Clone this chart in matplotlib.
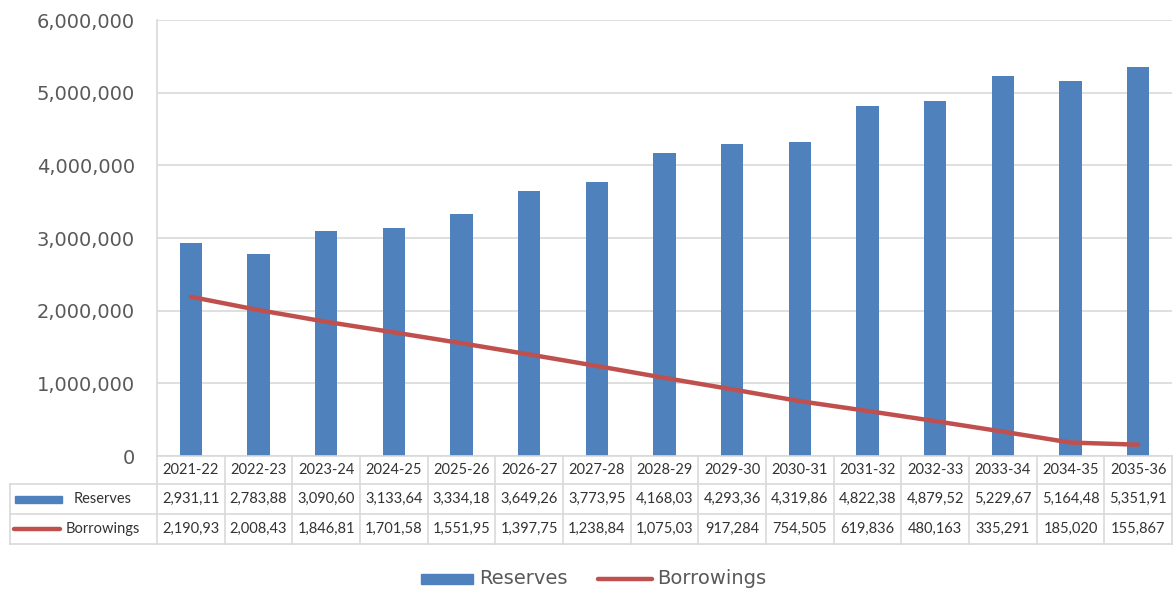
import numpy as np
import matplotlib.pyplot as plt
from matplotlib.lines import Line2D
from matplotlib.patches import Rectangle
import matplotlib.transforms as mtransforms

years = ['2021-22', '2022-23', '2023-24', '2024-25', '2025-26', '2026-27', '2027-28',
         '2028-29', '2029-30', '2030-31', '2031-32', '2032-33', '2033-34', '2034-35', '2035-36']
reserves = [2931110, 2783880, 3090600, 3133640, 3334180, 3649260, 3773950,
            4168030, 4293360, 4319860, 4822380, 4879520, 5229670, 5164480, 5351910]
borrowings = [2190930, 2008430, 1846810, 1701580, 1551950, 1397750, 1238840,
              1075030, 917284, 754505, 619836, 480163, 335291, 185020, 155867]
# the table cells are truncated in the original
reserves_txt = ['2,931,11', '2,783,88', '3,090,60', '3,133,64', '3,334,18', '3,649,26', '3,773,95',
                '4,168,03', '4,293,36', '4,319,86', '4,822,38', '4,879,52', '5,229,67', '5,164,48', '5,351,91']
borrowings_txt = ['2,190,93', '2,008,43', '1,846,81', '1,701,58', '1,551,95', '1,397,75', '1,238,84',
                  '1,075,03', '917,284', '754,505', '619,836', '480,163', '335,291', '185,020', '155,867']
yticks = [0, 1000000, 2000000, 3000000, 4000000, 5000000, 6000000]

BLUE = '#4F81BD'
RED = '#C0504D'
GRID = '#D9D9D9'
TXT = '#595959'
TBL = '#333333'

W, H = 1173, 593
fig = plt.figure(figsize=(W / 100, H / 100), dpi=100)

def fx(px):
    return px / W

def fy(py):
    return 1 - py / H

left, right, top, bottom = 157, 1172, 20, 456
ax = fig.add_axes([fx(left), fy(bottom), fx(right - left), (bottom - top) / H])

x = np.arange(len(years))
ax.bar(x, reserves, width=0.33, color=BLUE, zorder=2)
ax.plot(x, borrowings, color=RED, lw=3.2, solid_capstyle='round', zorder=3)

ax.set_xlim(-0.5, len(years) - 0.5)
ax.set_ylim(0, 6000000)
ax.set_yticks(yticks)
ax.set_yticklabels(['{:,}'.format(v) for v in yticks], fontsize=14, color=TXT)
ax.tick_params(axis='y', length=0, pad=16)
ax.set_xticks([])
ax.grid(axis='y', color=GRID, lw=1.2, zorder=0)
for s in ['top', 'right', 'bottom']:
    ax.spines[s].set_visible(False)
ax.spines['left'].set_color(GRID)
ax.spines['left'].set_linewidth(1.2)

# data table below the axes
rows = [456, 484, 514, 544]
tfont = dict(fontsize=10.5, color=TBL, family='Lato')
trans = mtransforms.blended_transform_factory(ax.transData, fig.transFigure)
line_kw = dict(color=GRID, lw=1.2)
fig.add_artist(Line2D([fx(left), fx(right)], [fy(rows[0])] * 2, **line_kw))
for r in rows[1:]:
    fig.add_artist(Line2D([fx(10), fx(right)], [fy(r)] * 2, **line_kw))
fig.add_artist(Line2D([fx(10)] * 2, [fy(rows[1]), fy(rows[3])], **line_kw))
for i in range(len(years) + 1):
    fig.add_artist(Line2D([i - 0.5] * 2, [fy(rows[0]), fy(rows[3])], transform=trans, **line_kw))

for i in range(len(years)):
    fig.text(i, fy((rows[0] + rows[1]) / 2), years[i], transform=trans,
             ha='center', va='center', **tfont)
    fig.text(i, fy((rows[1] + rows[2]) / 2), reserves_txt[i], transform=trans,
             ha='center', va='center', **tfont)
    fig.text(i, fy((rows[2] + rows[3]) / 2), borrowings_txt[i], transform=trans,
             ha='center', va='center', **tfont)

# row headers with legend keys
ym = (rows[1] + rows[2]) / 2
fig.add_artist(Rectangle((fx(15), fy(ym + 4)), fx(47), 7 / H, color=BLUE))
fig.text(fx(74), fy(ym), 'Reserves', ha='left', va='center', **tfont)
ym = (rows[2] + rows[3]) / 2
fig.add_artist(Line2D([fx(14), fx(60)], [fy(ym)] * 2, color=RED, lw=3.2, solid_capstyle='round'))
fig.text(fx(66), fy(ym), 'Borrowings', ha='left', va='center', **tfont)

# bottom legend
fig.add_artist(Rectangle((fx(421), fy(584)), fx(52), 10 / H, color=BLUE))
fig.text(fx(479), fy(579), 'Reserves', ha='left', va='center', fontsize=14, color=TXT)
fig.add_artist(Line2D([fx(598), fx(652)], [fy(579)] * 2, color=RED, lw=3.2, solid_capstyle='round'))
fig.text(fx(657), fy(579), 'Borrowings', ha='left', va='center', fontsize=14, color=TXT)

fig.savefig('out.png', dpi=100)
